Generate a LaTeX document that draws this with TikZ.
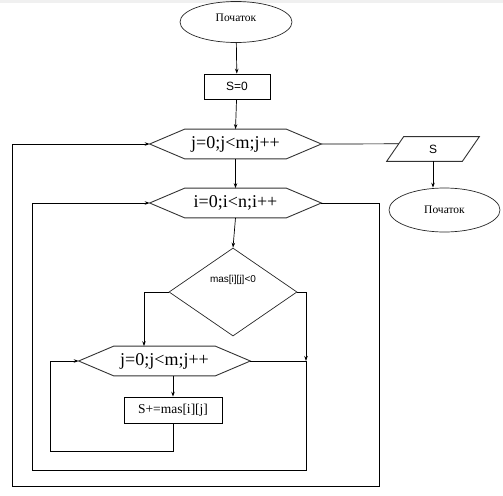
\documentclass[tikz,border=0pt]{standalone}
\usepackage{fontspec}
\setmainfont{Liberation Serif}
\newfontfamily\sansf{Liberation Sans}
\usetikzlibrary{shapes.geometric,arrows.meta,calc}
\begin{document}
\begin{tikzpicture}[x=1pt,y=-1pt,
  line width=0.7pt,
  arr/.style={-{Stealth[length=5pt,width=3.5pt]}},
  hexa/.style={minimum width=171pt,minimum height=29pt,inner sep=0pt,font=\fontsize{18}{20}\selectfont},
  hexline/.style={draw=black!80,line width=0.9pt},
  boxn/.style={draw,rectangle,inner sep=0pt},
  term/.style={draw=black!85,ellipse,inner sep=0pt,font=\fontsize{11.5}{13}\selectfont},
]
\useasboundingbox (0,0) rectangle (503,495);
\fill[gray!12] (0,0) rectangle (503,3);

% terminals
\node[term,minimum width=112pt,minimum height=41pt,
      label={[font=\fontsize{11.5}{13}\selectfont,yshift=4pt]center:Початок}] (start) at (236,22) {};
\node[term,minimum width=111pt,minimum height=44pt] (stop) at (444.5,210) {Початок};

% process boxes
\node[boxn,minimum width=66pt,minimum height=25pt,font=\sansf\fontsize{12}{14}\selectfont] (s0) at (237,86.5) {S=0};
\node[boxn,minimum width=98pt,minimum height=26pt,font=\fontsize{13.5}{15}\selectfont] (sum) at (173,410) {S+=mas[i][j]};

% loop hexagons
\node[hexa] (hex1) at (235.5,144) {j=0;j<m;j++};
\node[hexa] (hex2) at (235.5,203) {i=0;i<n;i++};
\node[hexa] (hex3) at (164.5,361) {j=0;j<m;j++};
\foreach \h in {hex1,hex2,hex3}
  \draw[hexline] (\h.west) -- ($(\h.north west)+(35,0)$) -- ($(\h.north east)+(-35,0)$)
     -- (\h.east) -- ($(\h.south east)+(-35,0)$) -- ($(\h.south west)+(35,0)$) -- cycle;

% output parallelogram
\node[minimum width=92pt,minimum height=24pt,inner sep=0pt,font=\sansf\fontsize{12}{14}\selectfont] (par) at (433,149) {S};
\draw[draw=black!80,line width=0.9pt] ($(par.north west)+(17,0)$) coordinate (parTL) -- (par.north east)
   -- ($(par.south east)+(-17,0)$) -- (par.south west) -- cycle;

% decision
\node[draw=black!85,diamond,minimum width=128pt,minimum height=88pt,inner sep=0pt,
      label={[font=\sansf\fontsize{10}{12}\selectfont,yshift=12pt]center:mas[i][j]<0}] (dec) at (233,292) {};

% connectors
\draw[arr] (start) -- (s0);
\draw[arr] (s0) -- (hex1.north);
\draw (hex1.east) -- ($(parTL)!0.29!(par.south west)$);
\draw[arr] (par.south) -- (par.south |- stop.north);
\draw[arr] (hex1.south) -- (hex2.north);
\draw[arr] (hex2.south) -- (dec.north);
\draw[arr] (dec.west) -| ($(hex3.north)+(-20.5,0)$);
\coordinate (j1) at (306,361);
\draw[arr] (dec.east) -| (j1);
\draw[arr] (sum.north |- hex3.south) -- (sum.north);
\draw[arr] (sum.south) |- (50,451) |- (hex3.west);
\draw[arr] (hex3.east) -- (j1) -- (306,470) -- (32,470) |- (hex2.west);
\draw[arr] (hex2.east) -| (379,486) -- (12,486) |- (hex1.west);
\end{tikzpicture}
\end{document}
